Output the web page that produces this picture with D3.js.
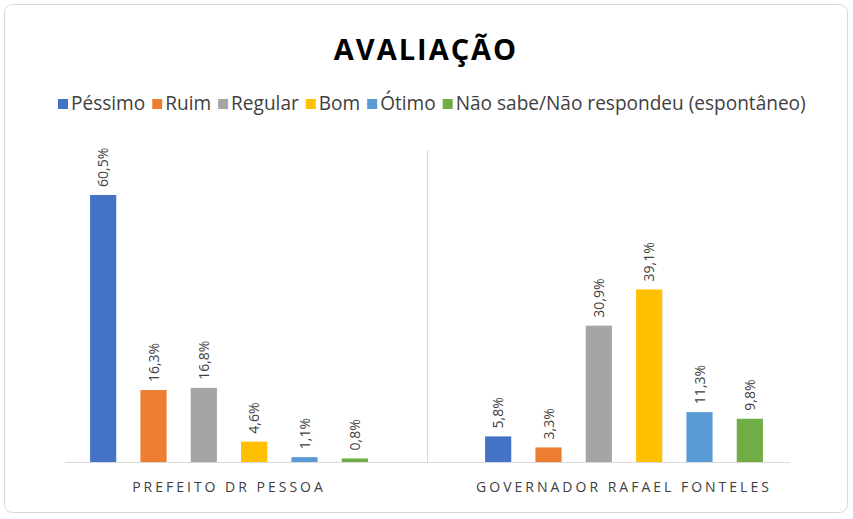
<!DOCTYPE html>
<html><head><meta charset="utf-8">
<script src="https://cdn.jsdelivr.net/npm/d3@7"></script>
<style>body{margin:0;background:#fff}</style></head>
<body><svg id="c" width="853" height="519"></svg>
<script>
const categories = ["PREFEITO DR PESSOA", "GOVERNADOR RAFAEL FONTELES"];
const series = ["Péssimo","Ruim","Regular","Bom","Ótimo","Não sabe/Não respondeu (espontâneo)"];
const colors = ["#4472C4","#ED7D31","#A5A5A5","#FFC000","#5B9BD5","#70AD47"];
const values = [
  [60.5,16.3,16.8,4.6,1.1,0.8],
  [5.8,3.3,30.9,39.1,11.3,9.8]
];
const svg = d3.select("#c");
const font = "'Open Sans', sans-serif";
svg.append("rect").attr("x",4.5).attr("y",4.5).attr("width",843).attr("height",508).attr("rx",8)
  .attr("fill","#fff").attr("stroke","#d9d9d9");
svg.append("text").attr("x",426).attr("y",60).attr("text-anchor","middle")
  .attr("font-family",font).attr("font-weight","bold").attr("font-size",29).attr("letter-spacing",2)
  .attr("fill","#000").text("AVALIAÇÃO");
// legend
function drawLegend(fs){
  svg.select(".lg").remove();
  const lg = svg.append("g").attr("class","lg").attr("font-family",font).attr("font-size",fs).attr("fill","#404040");
  let lx = 58;
  series.forEach((s,i)=>{
    lg.append("rect").attr("x",lx).attr("y",99).attr("width",10).attr("height",10).attr("fill",colors[i]);
    const t = lg.append("text").attr("x",lx+13).attr("y",110).text(s);
    lx += 13 + t.node().getComputedTextLength() + 7;
  });
  return lx-7;
}
let end = drawLegend(16);
drawLegend(16*(805-58-6*20)/(end-58-6*20));
const x0 = d3.scaleBand().domain(categories).range([32,822]);
const x1 = d3.scaleBand().domain(series).range([46,348]).paddingInner(0.48).paddingOuter(0.24);
const y = d3.scaleLinear().domain([0,60.5]).range([462,195]);
categories.forEach((c,gi)=>{
  const g = svg.append("g").attr("transform",`translate(${x0(c)},0)`);
  series.forEach((s,si)=>{
    const v = values[gi][si];
    g.append("rect").attr("x",x1(s)).attr("y",y(v)).attr("width",x1.bandwidth()).attr("height",y(0)-y(v)).attr("fill",colors[si]);
    const cx = x1(s)+x1.bandwidth()/2, ty = y(v)-8;
    g.append("text").attr("transform",`translate(${cx+5},${ty}) rotate(-90)`)
      .attr("font-family",font).attr("font-size",14).attr("fill","#404040")
      .text(v.toFixed(1).replace(".",",")+"%");
  });
  svg.append("text").attr("x",x1.range()[0]+x0(c)+(x1.range()[1]-x1.range()[0])/2).attr("y",492).attr("text-anchor","middle")
    .attr("font-family",font).attr("font-size",14).attr("letter-spacing",3).attr("fill","#404040").text(c);
});
svg.append("line").attr("x1",65).attr("x2",790).attr("y1",462.5).attr("y2",462.5).attr("stroke","#d9d9d9");
svg.append("line").attr("x1",427.5).attr("x2",427.5).attr("y1",150).attr("y2",462).attr("stroke","#d9d9d9");
</script></body></html>
